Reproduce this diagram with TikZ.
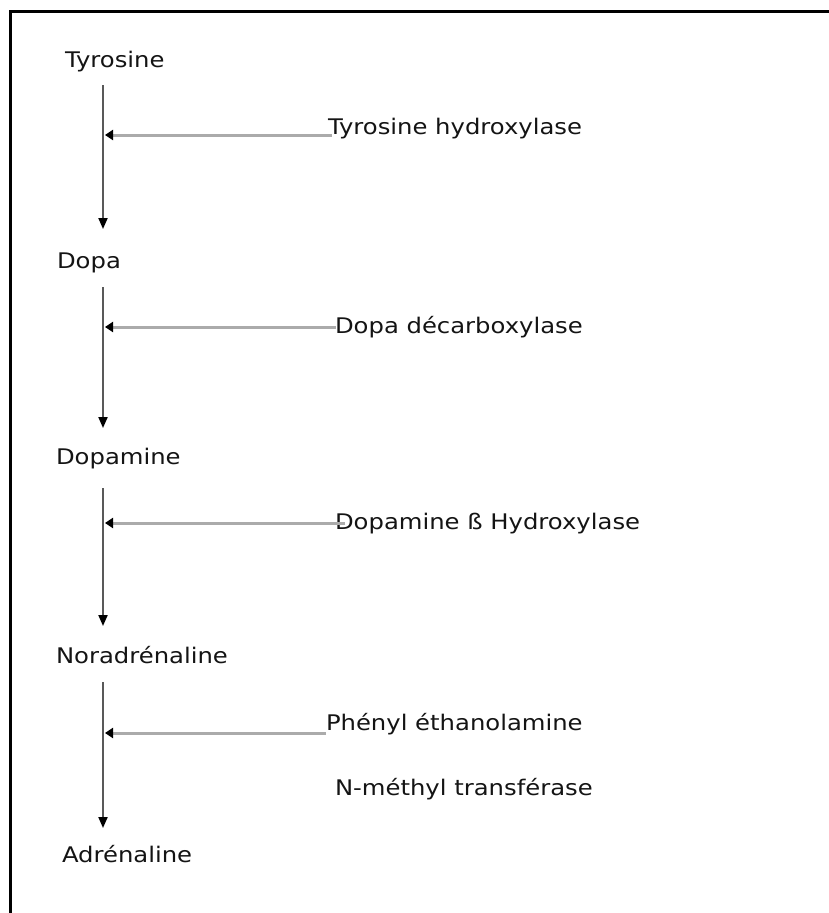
\documentclass[tikz,border=0pt]{standalone}
\usepackage{fontspec}
\setmainfont{DejaVu Sans}
\usetikzlibrary{arrows.meta}
\begin{document}
\begin{tikzpicture}[x=1pt,y=-1pt,
  lbl/.style={anchor=base west,inner sep=0pt,outer sep=0pt,text=black!92,
    font=\fontsize{21.5}{26}\selectfont,xscale=1.13,transform shape},
  vline/.style={draw=black!65,line width=2pt,-{Triangle[length=11pt,width=9pt,color=black,fill=black]}},
  hline/.style={draw=black!33,line width=3pt,-{Triangle[length=8pt,width=10pt,fill=black,color=black]}},
  frame/.style={draw=black,line width=3pt}]
\useasboundingbox (0,0) rectangle (829,913);
% partial frame
\coordinate (fbl) at (10.5,913);
\coordinate (ftl) at (10.5,11);
\coordinate (ftr) at (829,11);
\draw[frame] (fbl) -- (ftl) -- (ftr);
% compounds
\node[lbl] (tyr) at (65,67) {Tyrosine};
\node[lbl] (dopa) at (57,268) {Dopa};
\node[lbl] (dopam) at (56,464) {Dopamine};
\node[lbl] (nor) at (56,663) {Noradrénaline};
\node[lbl] (adr) at (62,862) {Adrénaline};
% enzymes
\node[lbl] (e1) at (328,134) {Tyrosine hydroxylase};
\node[lbl] (e2) at (335,333) {Dopa décarboxylase};
\node[lbl] (e3) at (335,529) {Dopamine ß Hydroxylase};
\node[lbl] (e4) at (326,730) {Phényl éthanolamine};
\node[lbl] (e4b) at (335,795) {N-méthyl transférase};
% vertical line coordinates
\coordinate (v1s) at (103,85);  \coordinate (v1e) at (103,229);
\coordinate (v2s) at (103,287); \coordinate (v2e) at (103,428);
\coordinate (v3s) at (103,488); \coordinate (v3e) at (103,626);
\coordinate (v4s) at (103,682); \coordinate (v4e) at (103,828);
% horizontal join points
\coordinate (h1s) at (332,135); \coordinate (h1e) at (105,135);
\coordinate (h2s) at (336,327); \coordinate (h2e) at (105,327);
\coordinate (h3s) at (345,523); \coordinate (h3e) at (105,523);
\coordinate (h4s) at (326,733); \coordinate (h4e) at (105,733);
\draw[vline] (v1s) -- (v1e);
\draw[vline] (v2s) -- (v2e);
\draw[vline] (v3s) -- (v3e);
\draw[vline] (v4s) -- (v4e);
\draw[hline] (h1s) -- (h1e);
\draw[hline] (h2s) -- (h2e);
\draw[hline] (h3s) -- (h3e);
\draw[hline] (h4s) -- (h4e);
\end{tikzpicture}
\end{document}
